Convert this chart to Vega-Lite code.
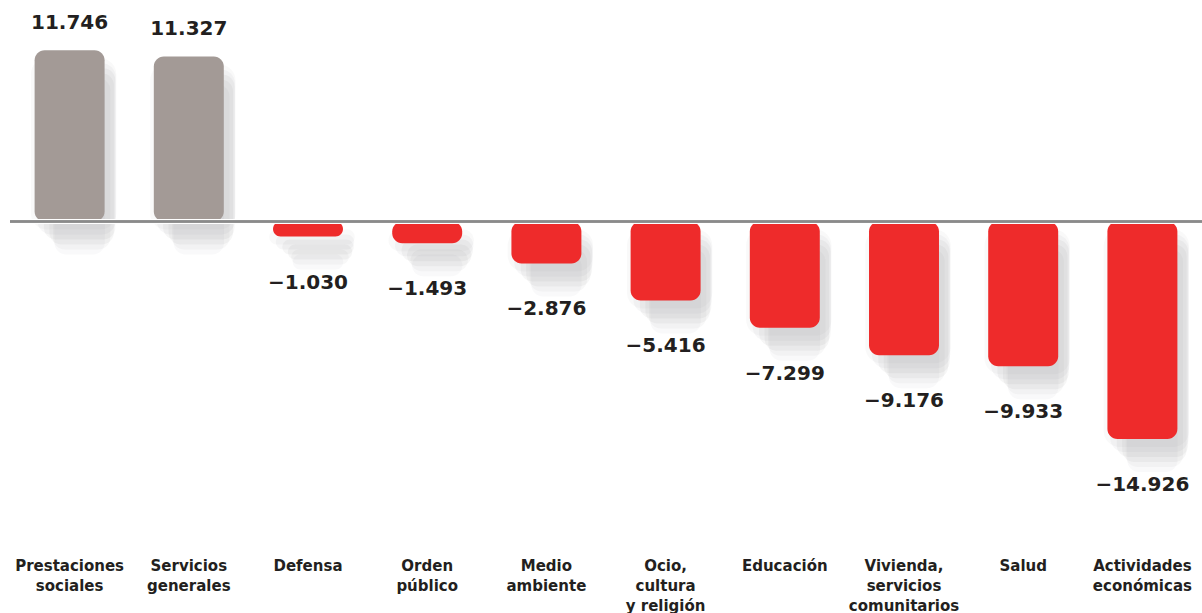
{
  "$schema": "https://vega.github.io/schema/vega-lite/v6.json",
  "autosize": {"type": "none"},
  "padding": {"left": 10, "top": 0, "right": 0, "bottom": 73},
  "width": 1192,
  "height": 540,
  "config": {
    "view": {"stroke": null},
    "locale": {"number": {"decimal": ",", "thousands": ".", "grouping": [3], "currency": ["", " €"]}}
  },
  "data": {
    "values": [
      {"partida": "Prestaciones\nsociales", "valor": 11746},
      {"partida": "Servicios\ngenerales", "valor": 11327},
      {"partida": "Defensa", "valor": -1030},
      {"partida": "Orden\npúblico", "valor": -1493},
      {"partida": "Medio\nambiente", "valor": -2876},
      {"partida": "Ocio,\ncultura\ny religión", "valor": -5416},
      {"partida": "Educación", "valor": -7299},
      {"partida": "Vivienda,\nservicios\ncomunitarios", "valor": -9176},
      {"partida": "Salud", "valor": -9933},
      {"partida": "Actividades\neconómicas", "valor": -14926}
    ]
  },
  "encoding": {
    "x": {
      "field": "partida", "type": "nominal", "sort": null,
      "scale": {"paddingInner": 0.413, "paddingOuter": 0.2065},
      "axis": {
        "orient": "bottom", "title": null, "domain": false, "ticks": false,
        "labelAngle": 0, "labelAlign": "center", "labelBaseline": "top",
        "labelPadding": 18, "labelLineHeight": 20, "labelOverlap": false,
        "labelFont": "DejaVu Sans", "labelFontWeight": "bold", "labelFontSize": 15,
        "labelColor": "#231F20", "labelLimit": 300,
        "labelExpr": "split(datum.label, '\\n')"
      }
    },
    "y": {
      "field": "valor", "type": "quantitative",
      "scale": {"domain": [-21860, 15202], "nice": false, "zero": false},
      "axis": null
    }
  },
  "layer": [
    {"mark": {"type": "bar", "color": "#4a4a55", "opacity": 0.035, "cornerRadius": 16, "xOffset": 4, "yOffset": 8, "y2Offset": 8, "width": {"band": 1.22}}, "encoding": {"y2": {"datum": 0}}},
    {"mark": {"type": "bar", "color": "#4a4a55", "opacity": 0.045, "cornerRadius": 14, "xOffset": 7, "yOffset": 13, "y2Offset": 13, "width": {"band": 1.12}}, "encoding": {"y2": {"datum": 0}}},
    {"mark": {"type": "bar", "color": "#4a4a55", "opacity": 0.05, "cornerRadius": 12, "xOffset": 10, "yOffset": 18, "y2Offset": 18, "width": {"band": 1.02}}, "encoding": {"y2": {"datum": 0}}},
    {"mark": {"type": "bar", "color": "#4a4a55", "opacity": 0.05, "cornerRadius": 12, "xOffset": 12, "yOffset": 23, "y2Offset": 23, "width": {"band": 0.92}}, "encoding": {"y2": {"datum": 0}}},
    {"mark": {"type": "bar", "color": "#4a4a55", "opacity": 0.04, "cornerRadius": 12, "xOffset": 12, "yOffset": 28, "y2Offset": 28, "width": {"band": 0.82}}, "encoding": {"y2": {"datum": 0}}},
    {"mark": {"type": "bar", "color": "#4a4a55", "opacity": 0.03, "cornerRadius": 12, "xOffset": 10, "yOffset": 33, "y2Offset": 33, "width": {"band": 0.72}}, "encoding": {"y2": {"datum": 0}}},
    {"mark": {"type": "bar", "cornerRadius": 10},
     "encoding": {
       "y2": {"datum": 0},
       "color": {"condition": {"test": "datum.valor > 0", "value": "#A39A96"}, "value": "#EE2B2B"}
     }},
    {"mark": {"type": "rule", "color": "white", "strokeWidth": 4},
     "encoding": {"y": {"datum": 0}, "x": {"value": 0}, "x2": {"value": 1192}}},
    {"mark": {"type": "rule", "color": "#8a8a8a", "strokeWidth": 1.5},
     "encoding": {"y": {"datum": 0}, "x": {"value": 0}, "x2": {"value": 1192}}},
    {"transform": [{"filter": "datum.valor > 0"}],
     "mark": {"type": "text", "font": "DejaVu Sans", "fontWeight": "bold", "fontSize": 20, "color": "#231F20", "baseline": "alphabetic", "dy": -21},
     "encoding": {"text": {"field": "valor", "type": "quantitative", "format": ",d"}}},
    {"transform": [{"filter": "datum.valor < 0"}],
     "mark": {"type": "text", "font": "DejaVu Sans", "fontWeight": "bold", "fontSize": 20, "color": "#231F20", "baseline": "top", "dy": 36},
     "encoding": {"text": {"field": "valor", "type": "quantitative", "format": ",d"}}}
  ]
}
